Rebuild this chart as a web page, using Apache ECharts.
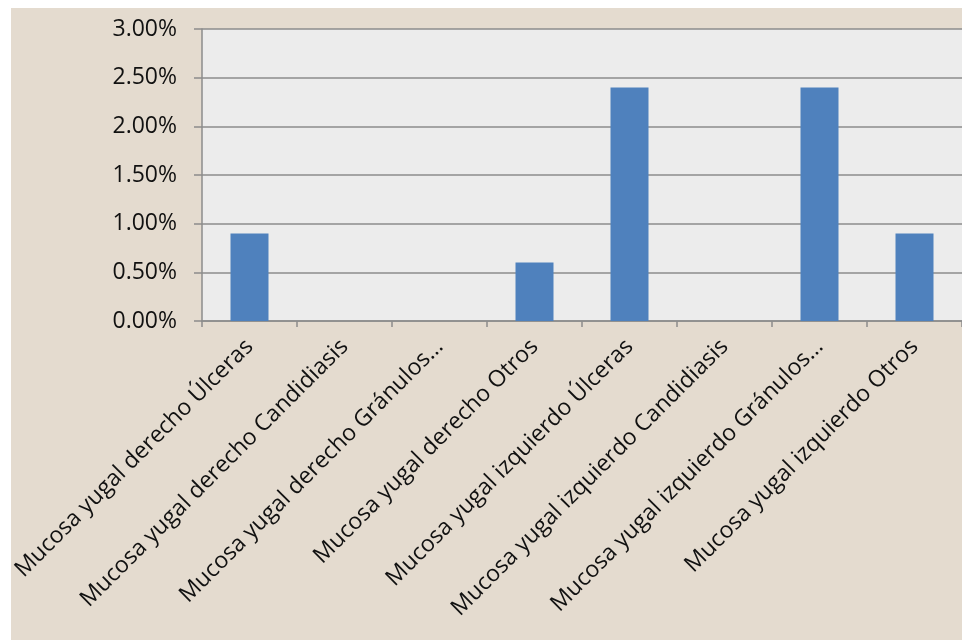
<!DOCTYPE html>
<html><head><meta charset="utf-8">
<script src="https://cdn.jsdelivr.net/npm/echarts@6/dist/echarts.min.js"></script>
<style>
html,body{margin:0;padding:0;background:#fff;width:962px;height:640px;overflow:hidden}
#c{position:absolute;left:0;top:0;width:962px;height:640px}
</style></head><body>
<div id="c"></div>
<script>
const categories = [
  "Mucosa yugal derecho Úlceras",
  "Mucosa yugal derecho Candidiasis",
  "Mucosa yugal derecho Gránulos…",
  "Mucosa yugal derecho Otros",
  "Mucosa yugal izquierdo Úlceras",
  "Mucosa yugal izquierdo Candidiasis",
  "Mucosa yugal izquierdo Gránulos…",
  "Mucosa yugal izquierdo Otros"
];
const values = [0.9, 0, 0, 0.6, 2.4, 0, 2.4, 0.9];
const yTicks = [0, 0.5, 1, 1.5, 2, 2.5, 3];

const chart = echarts.init(document.getElementById('c'), null, {renderer:'canvas'});
chart.setOption({
  backgroundColor: '#ffffff',
  animation: false,
  graphic: [{type: 'rect', left: 11, top: 8, z: -10, silent: true,
    shape: {width: 951, height: 632}, style: {fill: '#e4dbcf'}}],
  grid: {left: 202, top: 29, right: 0, bottom: 319, outerBoundsMode: 'none', containLabel: false,
    show: true, backgroundColor: '#ececec', borderWidth: 0},
  xAxis: {
    type: 'category', data: categories, boundaryGap: true,
    axisLine: {show: true, lineStyle: {color: '#8c8c8c', width: 1.5}},
    axisTick: {show: true, interval: 0, length: 6, lineStyle: {color: '#8c8c8c', width: 1.5}},
    axisLabel: {interval: 0, rotate: 45, margin: 22, color: '#111', fontFamily: 'Open Sans', fontSize: 23}
  },
  yAxis: {
    type: 'value', min: yTicks[0], max: yTicks[yTicks.length-1], interval: 0.5,
    axisLine: {show: true, lineStyle: {color: '#8c8c8c', width: 1.5}},
    axisTick: {show: true, length: 8, lineStyle: {color: '#8c8c8c', width: 1.5}},
    splitLine: {show: true, lineStyle: {color: '#8c8c8c', width: 1.5}},
    axisLabel: {margin: 25, color: '#111', fontFamily: 'Open Sans', fontSize: 23,
      formatter: v => v.toFixed(2) + '%'}
  },
  series: [{
    type: 'bar', data: values, barWidth: '40%',
    itemStyle: {color: '#4f81bd'}
  }]
});
</script>
</body></html>
